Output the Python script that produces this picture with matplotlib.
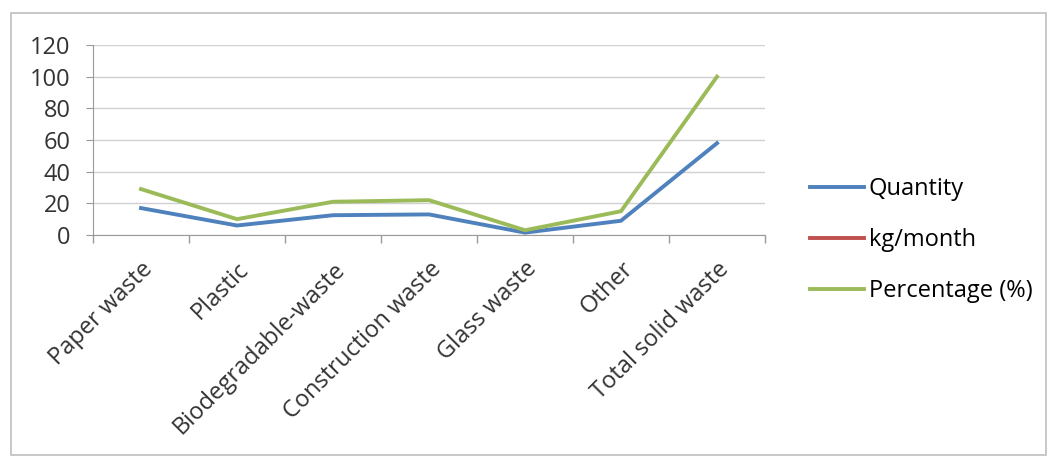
import numpy as np
import matplotlib.pyplot as plt
from matplotlib.patches import Rectangle

# waste categories and the three series
categories = ["Paper waste", "Plastic", "Biodegradable-waste", "Construction waste",
              "Glass waste", "Other", "Total solid waste"]
quantity = [17, 6, 12.5, 13, 1.5, 9, 58]
kg_month = [np.nan] * 7          # column holds no numbers, only shows in legend
percentage = [29, 10, 21, 22, 3, 15, 100]
yticks = [0, 20, 40, 60, 80, 100, 120]

plt.rcParams['font.family'] = ['Open Sans', 'DejaVu Sans']
fs = 17

fig = plt.figure(figsize=(10.52, 4.58), dpi=100)
# light frame round the whole chart
fig.patches.append(Rectangle((11 / 1052, 3 / 458), 1035 / 1052, 442 / 458,
                             transform=fig.transFigure, fill=False,
                             edgecolor='#BFBFBF', lw=1.2))

ax = fig.add_axes([93 / 1052, 1 - 235 / 458, 672 / 1052, 190 / 458])
x = np.arange(len(categories))
l1, = ax.plot(x, quantity, color='#4F81BD', lw=2.8, solid_joinstyle='round')
l2, = ax.plot(x, kg_month, color='#C0504D', lw=2.8)
l3, = ax.plot(x, percentage, color='#9BBB59', lw=2.8, solid_joinstyle='round')

ax.set_xlim(-0.5, len(categories) - 0.5)
ax.set_ylim(0, 120)
ax.set_yticks(yticks)
ax.set_yticklabels([str(v) for v in yticks], fontsize=fs, color='#333333')
ax.tick_params(axis='y', length=5, color='#9A9A9A', pad=11)
ax.grid(axis='y', color='#D0D0D0', lw=1)
ax.set_axisbelow(True)

ax.set_xticks(x)
ax.set_xticklabels(categories, rotation=45, ha='right', rotation_mode='anchor',
                   fontsize=fs, color='#333333')
ax.tick_params(axis='x', which='major', length=0, pad=16)
ax.set_xticks(np.arange(-0.5, len(categories)), minor=True)
ax.tick_params(axis='x', which='minor', length=6, color='#9A9A9A', width=1)

for s in ['top', 'right']:
    ax.spines[s].set_visible(False)
ax.spines['left'].set_color('#9A9A9A')
ax.spines['bottom'].set_color('#9A9A9A')

fig.legend([l1, l2, l3], ["Quantity", "kg/month", "Percentage (%)"],
           loc='center left', bbox_to_anchor=(798 / 1052, 1 - 240 / 458),
           frameon=False, fontsize=fs, borderpad=0, handlelength=2.3,
           handletextpad=0.2, labelspacing=1.15)

fig.savefig("out.png", dpi=100)
